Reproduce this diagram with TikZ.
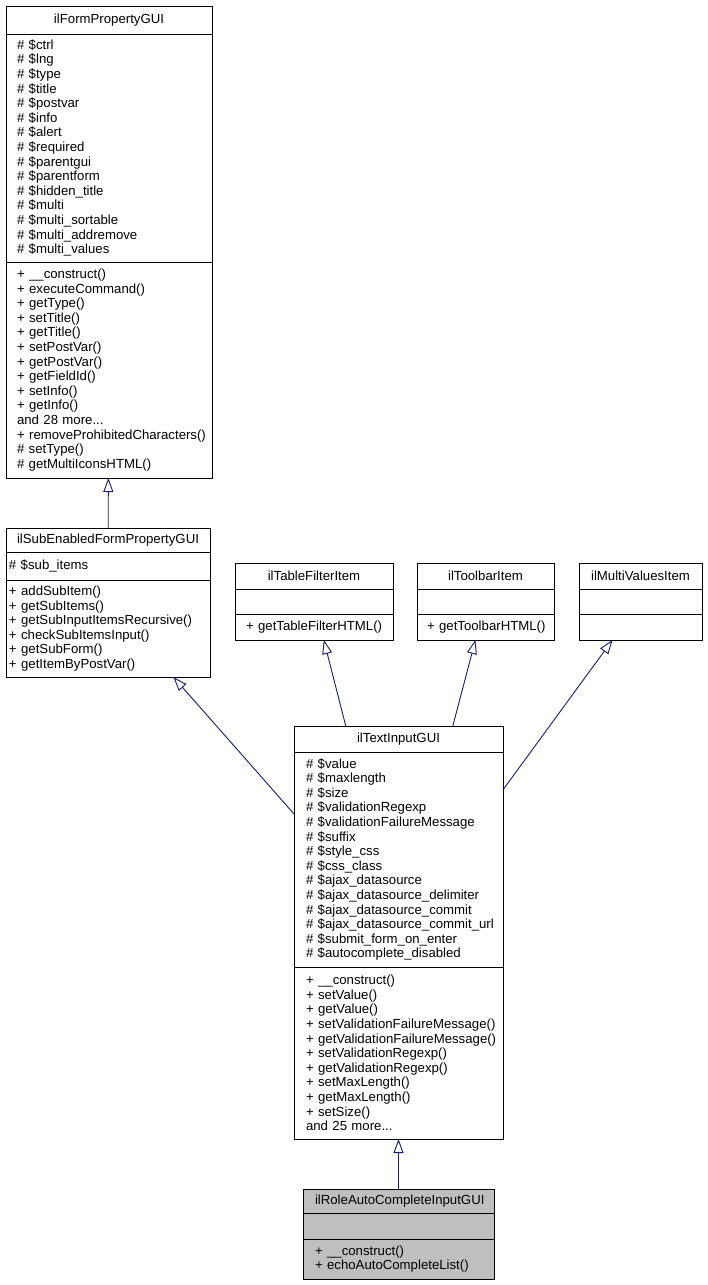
\documentclass[tikz,border=0pt]{standalone}
\usepackage{fontspec}
\setmainfont{Liberation Sans}
\usetikzlibrary{positioning, fit, arrows.meta}
\definecolor{edgeColor}{RGB}{25,25,112}
\definecolor{derivedColor}{RGB}{191,191,191}
\newcommand{\classFont}{\fontsize{13.2}{14.6}\selectfont\hyphenpenalty=10000\exhyphenpenalty=10000}
\tikzstyle{diagram} = [x = 1pt, y = -1pt]
\tikzstyle{partStyle} = [draw=black, fill=white, line width=.9pt, inner ysep=0pt, outer sep=0pt, font=\classFont, align=left]
\tikzstyle{headStyle} = [partStyle, align=center]
\tikzstyle{derivedStyle} = [fill=derivedColor]
\tikzstyle{classStyle} = [inner sep=0pt, outer sep=0pt]
\tikzstyle{inheritLine} = [color=edgeColor, line width=.9pt, -{Triangle[open, length=14pt, width=10pt]}]
\newcommand{\pub}[1]{+~#1}
\newcommand{\prot}[1]{\#~#1}
% [style] name, x, y, width, height, padding, title
\newcommand{\classHead}[8][]{
  \pgfmathsetmacro{\partWidth}{#5 - 2 * #7}
  \node [headStyle, #1, anchor=north west, minimum width=#5, minimum height=#6, inner xsep=#7, text width=\partWidth pt] (#2) at (#3,#4) {#8};
}
% [style] name, node above, width, height, padding, members
\newcommand{\classPart}[7][]{
  \pgfmathsetmacro{\partWidth}{#4 - 2 * #6}
  \node [partStyle, #1, below=0pt of #3, minimum width=#4, minimum height=#5, inner xsep=#6, text width=\partWidth pt] (#2) {#7};
}
\newcommand{\classFrame}[2]{\node [classStyle, fit=#2] (#1) {};}

\begin{document}
\begin{tikzpicture}[diagram]
  \useasboundingbox (0,0) rectangle (707,1285);

  % base class
  \classHead{formHead}{6}{6}{206}{28}{11}{ilFormPropertyGUI}
  \classPart{formAttr}{formHead}{206}{228}{11}{\prot{\$ctrl}\\ \prot{\$lng}\\ \prot{\$type}\\ \prot{\$title}\\ \prot{\$postvar}\\ \prot{\$info}\\ \prot{\$alert}\\ \prot{\$required}\\ \prot{\$parentgui}\\ \prot{\$parentform}\\ \prot{\$hidden\_title}\\ \prot{\$multi}\\ \prot{\$multi\_sortable}\\ \prot{\$multi\_addremove}\\ \prot{\$multi\_values}}
  \classPart{formOps}{formAttr}{206}{216}{11}{\pub{\_\_construct()}\\ \pub{executeCommand()}\\ \pub{getType()}\\ \pub{setTitle()}\\ \pub{getTitle()}\\ \pub{setPostVar()}\\ \pub{getPostVar()}\\ \pub{getFieldId()}\\ \pub{setInfo()}\\ \pub{getInfo()}\\ and 28 more...\\ \pub{removeProhibitedCharacters()}\\ \prot{setType()}\\ \prot{getMultiIconsHTML()}}
  \classFrame{formProperty}{(formHead)(formOps)}

  \classHead{subHead}{6}{528}{204}{24}{3}{ilSubEnabledFormPropertyGUI}
  \classPart{subAttr}{subHead}{204}{28}{3}{\prot{\$sub\_items}}
  \classPart{subOps}{subAttr}{204}{97}{3}{\pub{addSubItem()}\\ \pub{getSubItems()}\\ \pub{getSubInputItemsRecursive()}\\ \pub{checkSubItemsInput()}\\ \pub{getSubForm()}\\ \pub{getItemByPostVar()}}
  \classFrame{subEnabled}{(subHead)(subOps)}

  % interfaces
  \classHead{tableHead}{235}{563}{158}{26}{11}{ilTableFilterItem}
  \classPart{tableAttr}{tableHead}{158}{25}{11}{}
  \classPart{tableOps}{tableAttr}{158}{26}{11}{\pub{getTableFilterHTML()}}
  \classFrame{tableFilter}{(tableHead)(tableOps)}

  \classHead{toolHead}{417}{563}{137}{26}{10}{ilToolbarItem}
  \classPart{toolAttr}{toolHead}{137}{25}{10}{}
  \classPart{toolOps}{toolAttr}{137}{26}{10}{\pub{getToolbarHTML()}}
  \classFrame{toolbarItem}{(toolHead)(toolOps)}

  \classHead{multiHead}{579}{563}{123}{26}{6}{ilMultiValuesItem}
  \classPart{multiAttr}{multiHead}{123}{25}{6}{}
  \classPart{multiOps}{multiAttr}{123}{26}{6}{}
  \classFrame{multiValues}{(multiHead)(multiOps)}

  % text input
  \classHead{textHead}{294}{726}{209}{26}{12}{ilTextInputGUI}
  \classPart{textAttr}{textHead}{209}{215}{12}{\prot{\$value}\\ \prot{\$maxlength}\\ \prot{\$size}\\ \prot{\$validationRegexp}\\ \prot{\$validationFailureMessage}\\ \prot{\$suffix}\\ \prot{\$style\_css}\\ \prot{\$css\_class}\\ \prot{\$ajax\_datasource}\\ \prot{\$ajax\_datasource\_delimiter}\\ \prot{\$ajax\_datasource\_commit}\\ \prot{\$ajax\_datasource\_commit\_url}\\ \prot{\$submit\_form\_on\_enter}\\ \prot{\$autocomplete\_disabled}}
  \classPart{textOps}{textAttr}{209}{172}{12}{\pub{\_\_construct()}\\ \pub{setValue()}\\ \pub{getValue()}\\ \pub{setValidationFailureMessage()}\\ \pub{getValidationFailureMessage()}\\ \pub{setValidationRegexp()}\\ \pub{getValidationRegexp()}\\ \pub{setMaxLength()}\\ \pub{getMaxLength()}\\ \pub{setSize()}\\ and 25 more...}
  \classFrame{textInput}{(textHead)(textOps)}

  % derived class
  \classHead[derivedStyle]{roleHead}{303}{1189}{191}{24}{12}{ilRoleAutoCompleteInputGUI}
  \classPart[derivedStyle]{roleAttr}{roleHead}{191}{26}{12}{}
  \classPart[derivedStyle]{roleOps}{roleAttr}{191}{40}{12}{\pub{\_\_construct()}\\ \pub{echoAutoCompleteList()}}
  \classFrame{roleAutoComplete}{(roleHead)(roleOps)}

  % inheritance
  \draw [inheritLine] (subEnabled) -- (formProperty);
  \draw [inheritLine] (textInput) -- (subEnabled);
  \draw [inheritLine] (textInput) -- (tableFilter);
  \draw [inheritLine] (textInput) -- (toolbarItem);
  \draw [inheritLine] (textInput) -- (multiValues);
  \draw [inheritLine] (roleAutoComplete) -- (textInput);
\end{tikzpicture}
\end{document}
